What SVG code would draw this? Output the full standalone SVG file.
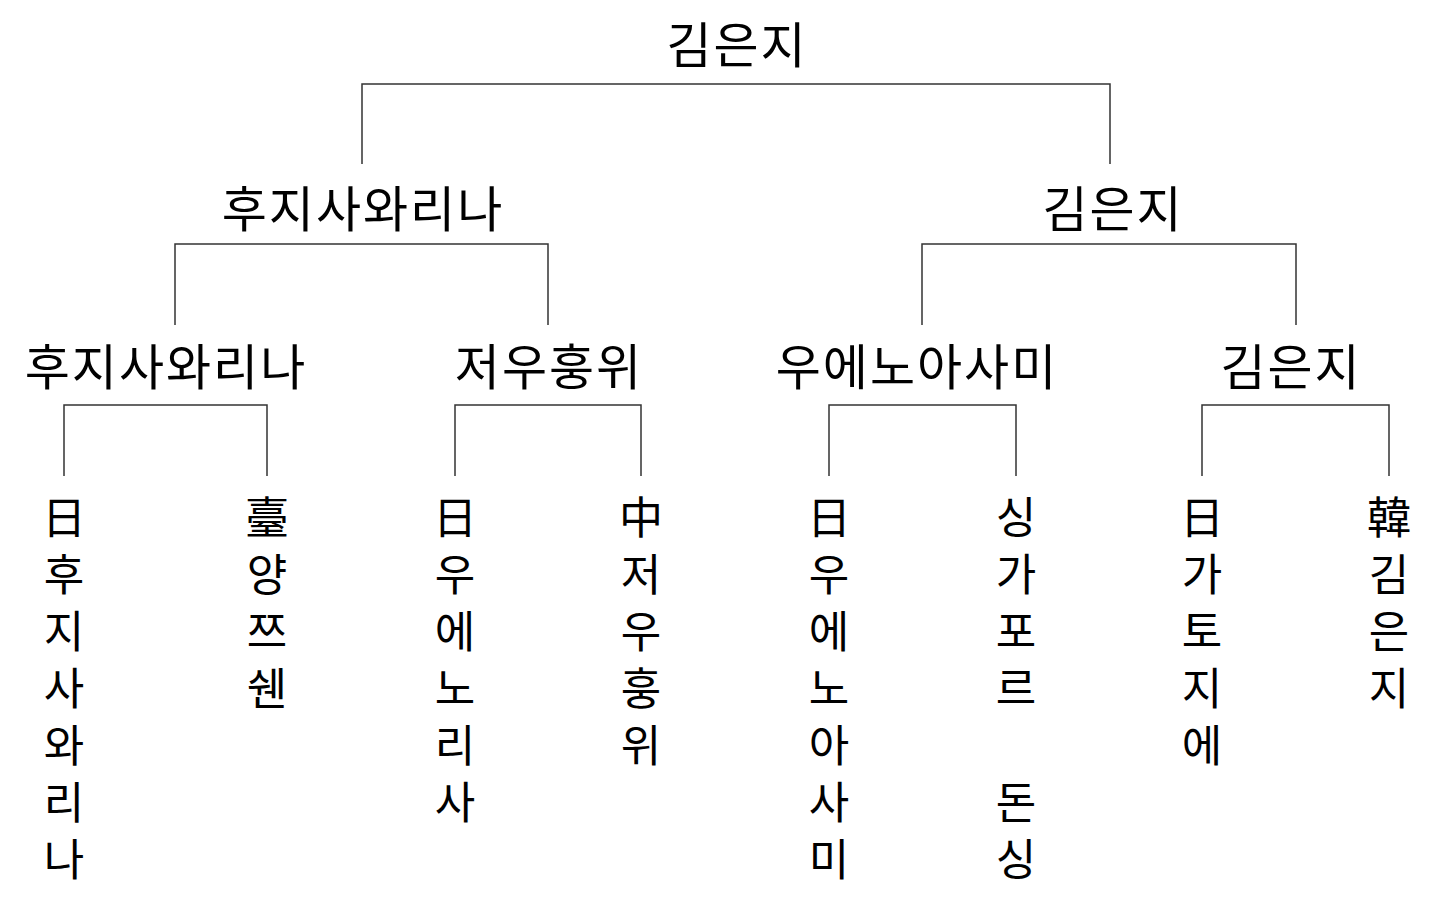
<svg xmlns="http://www.w3.org/2000/svg" width="1430" height="908" viewBox="0 0 1430 908">
<style>
.t{font-family:"Noto Sans CJK KR","Noto Sans CJK SC",sans-serif;font-size:49px;letter-spacing:2px;fill:#000;text-anchor:middle}
.l{font-family:"Noto Sans CJK KR","Noto Sans CJK SC",sans-serif;font-size:44px;fill:#000;text-anchor:middle}
.c{fill:none;stroke:#333;stroke-width:1.5}
</style>
<rect width="1430" height="908" fill="#fff"/>
<g id="connectors">
<path class="c" d="M362,164V84H1110V164"/>
<path class="c" d="M175,325V244H548V325"/>
<path class="c" d="M922,325V244H1296V325"/>
<path class="c" d="M64,476V405H267V476"/>
<path class="c" d="M455,476V405H641V476"/>
<path class="c" d="M829,476V405H1016V476"/>
<path class="c" d="M1202,476V405H1389V476"/>
</g>
<g id="final"><text class="t" x="737" y="63">김은지</text></g>
<g id="semi1"><text class="t" x="363" y="227">후지사와리나</text></g>
<g id="semi2"><text class="t" x="1113" y="227">김은지</text></g>
<g id="q1"><text class="t" x="166" y="385">후지사와리나</text></g>
<g id="q2"><text class="t" x="549" y="385">저우훙위</text></g>
<g id="q3"><text class="t" x="917" y="385">우에노아사미</text></g>
<g id="q4"><text class="t" x="1291" y="385">김은지</text></g>
<g id="leaf1"><text class="l"><tspan x="64" y="534">日</tspan><tspan x="64" y="591">후</tspan><tspan x="64" y="648">지</tspan><tspan x="64" y="705">사</tspan><tspan x="64" y="762">와</tspan><tspan x="64" y="819">리</tspan><tspan x="64" y="876">나</tspan></text></g>
<g id="leaf2"><text class="l"><tspan x="267" y="534">臺</tspan><tspan x="267" y="591">양</tspan><tspan x="267" y="648">쯔</tspan><tspan x="267" y="705">쉔</tspan></text></g>
<g id="leaf3"><text class="l"><tspan x="455" y="534">日</tspan><tspan x="455" y="591">우</tspan><tspan x="455" y="648">에</tspan><tspan x="455" y="705">노</tspan><tspan x="455" y="762">리</tspan><tspan x="455" y="819">사</tspan></text></g>
<g id="leaf4"><text class="l"><tspan x="641" y="534">中</tspan><tspan x="641" y="591">저</tspan><tspan x="641" y="648">우</tspan><tspan x="641" y="705">훙</tspan><tspan x="641" y="762">위</tspan></text></g>
<g id="leaf5"><text class="l"><tspan x="829" y="534">日</tspan><tspan x="829" y="591">우</tspan><tspan x="829" y="648">에</tspan><tspan x="829" y="705">노</tspan><tspan x="829" y="762">아</tspan><tspan x="829" y="819">사</tspan><tspan x="829" y="876">미</tspan></text></g>
<g id="leaf6"><text class="l"><tspan x="1016" y="534">싱</tspan><tspan x="1016" y="591">가</tspan><tspan x="1016" y="648">포</tspan><tspan x="1016" y="705">르</tspan><tspan x="1016" y="819">돈</tspan><tspan x="1016" y="876">싱</tspan></text></g>
<g id="leaf7"><text class="l"><tspan x="1202" y="534">日</tspan><tspan x="1202" y="591">가</tspan><tspan x="1202" y="648">토</tspan><tspan x="1202" y="705">지</tspan><tspan x="1202" y="762">에</tspan></text></g>
<g id="leaf8"><text class="l"><tspan x="1389" y="534">韓</tspan><tspan x="1389" y="591">김</tspan><tspan x="1389" y="648">은</tspan><tspan x="1389" y="705">지</tspan></text></g>
</svg>
